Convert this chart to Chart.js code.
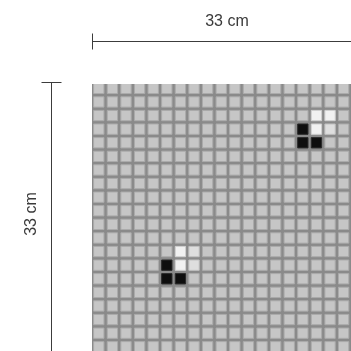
<!DOCTYPE html>
<html>
<head>
<meta charset="utf-8">
<script src="https://cdn.jsdelivr.net/npm/chart.js@4/dist/chart.umd.min.js"></script>
<style>
  html, body { margin: 0; padding: 0; background: #ffffff; overflow: hidden; }
  #wrap { width: 351px; height: 351px; }
</style>
</head>
<body>
<div id="wrap"><canvas id="c" width="351" height="351"></canvas></div>
<script>
// ---- data ----
const columns = [0, 1, 2, 3, 4, 5, 6, 7, 8, 9, 10, 11, 12, 13, 14, 15, 16, 17, 18, 19];
const rows = [0, 1, 2, 3, 4, 5, 6, 7, 8, 9, 10, 11, 12, 13, 14, 15, 16, 17, 18, 19];
const blackTiles = [[15, 3], [15, 4], [16, 4], [5, 13], [5, 14], [6, 14]];
const whiteTiles = [[16, 2], [17, 2], [16, 3], [6, 12], [6, 13]];
const paleTiles = [[17, 3], [7, 12], [7, 13]];
const widthLabel = '33 cm';
const heightLabel = '33 cm';

// ---- build ----
const key = (c, r) => c + ',' + r;
const special = new Set([...blackTiles, ...whiteTiles, ...paleTiles].map(t => key(t[0], t[1])));
const baseTiles = [];
columns.forEach(c => rows.forEach(r => { if (!special.has(key(c, r))) baseTiles.push({ x: c + 0.5, y: r + 0.5 }); }));
const toPts = list => list.map(t => ({ x: t[0] + 0.5, y: t[1] + 0.5 }));

const tileStyle = (fill, edge) => ({
  pointStyle: 'rect',
  pointRadius: 7.3,
  pointBackgroundColor: fill,
  pointBorderColor: edge,
  pointBorderWidth: 1,
  showLine: false,
  clip: 0
});

const mosaicBg = {
  id: 'mosaicBg',
  beforeDatasetsDraw(chart) {
    const a = chart.chartArea, ctx = chart.ctx;
    ctx.save();
    ctx.fillStyle = '#8a8a8a';
    ctx.fillRect(a.left, a.top, a.right - a.left, a.bottom - a.top);
    ctx.restore();
  }
};

const dimensions = {
  id: 'dimensions',
  afterDraw(chart) {
    const a = chart.chartArea, ctx = chart.ctx;
    ctx.save();
    ctx.strokeStyle = '#3c3c3c';
    ctx.lineWidth = 1;
    // horizontal dimension line
    const hy = a.top - 42.5;
    ctx.beginPath();
    ctx.moveTo(a.left, hy); ctx.lineTo(a.right, hy);
    ctx.moveTo(a.left + 0.5, hy - 8); ctx.lineTo(a.left + 0.5, hy + 8);
    ctx.stroke();
    // vertical dimension line
    const vx = a.left - 40.5;
    const vt = a.top - 1.5;
    ctx.beginPath();
    ctx.moveTo(vx, vt); ctx.lineTo(vx, a.bottom);
    ctx.moveTo(vx - 10, vt); ctx.lineTo(vx + 10, vt);
    ctx.stroke();
    // labels
    ctx.fillStyle = '#3a3a3a';
    ctx.font = '16px "Liberation Sans", Arial, sans-serif';
    ctx.textAlign = 'center';
    ctx.textBaseline = 'middle';
    ctx.fillText(widthLabel, a.left + 135, 21.5);
    ctx.translate(31.5, 214);
    ctx.rotate(-Math.PI / 2);
    ctx.fillText(heightLabel, 0, 0);
    ctx.restore();
  }
};

new Chart(document.getElementById('c'), {
  type: 'scatter',
  data: {
    datasets: [
      Object.assign({ label: 'tiles', data: baseTiles }, tileStyle('#c6c6c6', '#ababab')),
      Object.assign({ label: 'white', data: toPts(whiteTiles) }, tileStyle('#f1f1f1', '#d0d0d0')),
      Object.assign({ label: 'pale', data: toPts(paleTiles) }, tileStyle('#dedede', '#c0c0c0')),
      Object.assign({ label: 'black', data: toPts(blackTiles) }, tileStyle('#0e0e0e', '#2a2a2a'))
    ]
  },
  options: {
    responsive: false,
    animation: false,
    events: [],
    layout: { autoPadding: false, padding: { left: 92, top: 84, right: 0, bottom: 0 } },
    plugins: { legend: { display: false }, tooltip: { enabled: false }, title: { display: false } },
    scales: {
      x: { type: 'linear', min: 0, max: 19.04, display: false },
      y: { type: 'linear', reverse: true, min: 0.18, max: 19.81, display: false }
    }
  },
  plugins: [mosaicBg, dimensions]
});
</script>
</body>
</html>
